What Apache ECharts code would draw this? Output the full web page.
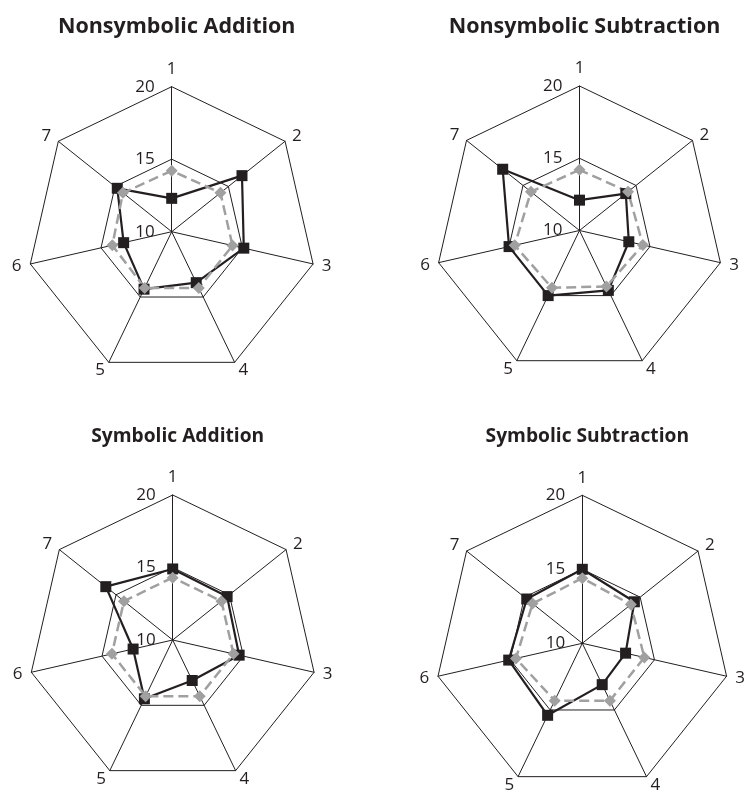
<!DOCTYPE html>
<html>
<head>
<meta charset="utf-8">
<script src="https://cdn.jsdelivr.net/npm/echarts@6/dist/echarts.min.js"></script>
<style>
html,body{margin:0;padding:0;background:#fff;}
#chart{width:744px;height:793px;}
</style>
</head>
<body>
<div id="chart"></div>
<script>
// ---- data ----
const axisNames = ['1', '2', '3', '4', '5', '6', '7'];
const scaleMin = 10;
const scaleMax = 20;
const panelTitles = ['Nonsymbolic Addition', 'Nonsymbolic Subtraction', 'Symbolic Addition', 'Symbolic Subtraction'];
const nonsymAddBlack = [12.3, 16.2, 15.1, 13.9, 14.4, 13.4, 14.8];
const nonsymAddGray  = [14.2, 14.3, 14.3, 14.3, 14.3, 14.2, 14.3];
const nonsymSubBlack = [12.1, 14.1, 13.5, 14.6, 15.0, 15.0, 16.8];
const nonsymSubGray  = [14.2, 14.3, 14.5, 14.3, 14.4, 14.6, 14.3];
const symAddBlack    = [14.9, 14.8, 14.7, 13.1, 14.5, 12.8, 15.9];
const symAddGray     = [14.3, 14.3, 14.3, 14.3, 14.3, 14.3, 14.3];
const symSubBlack    = [15.0, 14.5, 13.0, 13.1, 15.4, 15.1, 14.8];
const symSubGray     = [14.4, 14.2, 14.3, 14.3, 14.3, 14.6, 14.3];

const blackSets = [nonsymAddBlack, nonsymSubBlack, symAddBlack, symSubBlack];
const graySets = [nonsymAddGray, nonsymSubGray, symAddGray, symSubGray];

// ---- layout ----
const centers = [[171.7, 231.7], [579.5, 230.5], [172.7, 640], [582.3, 643.3]];
const radii = [145, 144.5, 145, 148];
const titleTops = [11, 11, 422, 422];
const titleSizes = [21.5, 21.5, 19.2, 19.2];

const ink = '#231f20';
const grayInk = '#a0a0a0';

// ECharts radar runs counter-clockwise; the reference runs clockwise,
// so feed axes in the order 1,7,6,5,4,3,2.
const order = axisNames.map((_, k) => (k === 0 ? 0 : axisNames.length - k));
const reorder = arr => order.map(k => arr[k]);

const radars = centers.map((c, i) => ({
  center: c,
  radius: radii[i],
  startAngle: 90,
  shape: 'polygon',
  splitNumber: 2,
  indicator: order.map((k, pos) => {
    const ind = { name: axisNames[k], min: scaleMin, max: scaleMax };
    if (pos === 0) {
      ind.axisLabel = {
        show: true,
        color: ink,
        fontSize: 17,
        fontFamily: 'Open Sans',
        margin: 17,
        padding: [0, 0, 6, 0]
      };
    }
    return ind;
  }),
  axisName: { color: ink, fontSize: 17, fontFamily: 'Open Sans' },
  nameGap: 9,
  axisLine: { lineStyle: { color: ink, width: 1 } },
  splitLine: { lineStyle: { color: ink, width: 1 } },
  splitArea: { show: false },
  axisTick: { show: false },
  axisLabel: { show: false }
}));

const titles = panelTitles.map((t, i) => ({
  text: t,
  left: centers[i][0],
  top: titleTops[i],
  textAlign: 'center',
  textStyle: { color: ink, fontSize: titleSizes[i], fontWeight: 'bold', fontFamily: 'Open Sans' }
}));

const series = [];
for (let i = 0; i < 4; i++) {
  series.push({
    type: 'radar',
    radarIndex: i,
    symbol: 'rect',
    symbolSize: 11,
    lineStyle: { color: ink, width: 2.2, type: 'solid' },
    itemStyle: { color: ink },
    data: [{ value: reorder(blackSets[i]) }],
    silent: true
  });
  series.push({
    type: 'radar',
    radarIndex: i,
    symbol: 'diamond',
    symbolSize: 12,
    lineStyle: { color: grayInk, width: 2.5, type: [10, 5] },
    itemStyle: { color: grayInk },
    data: [{ value: reorder(graySets[i]) }],
    silent: true
  });
}

const chart = echarts.init(document.getElementById('chart'), null, { renderer: 'canvas' });
chart.setOption({
  animation: false,
  backgroundColor: '#fff',
  title: titles,
  radar: radars,
  series: series
});
</script>
</body>
</html>
